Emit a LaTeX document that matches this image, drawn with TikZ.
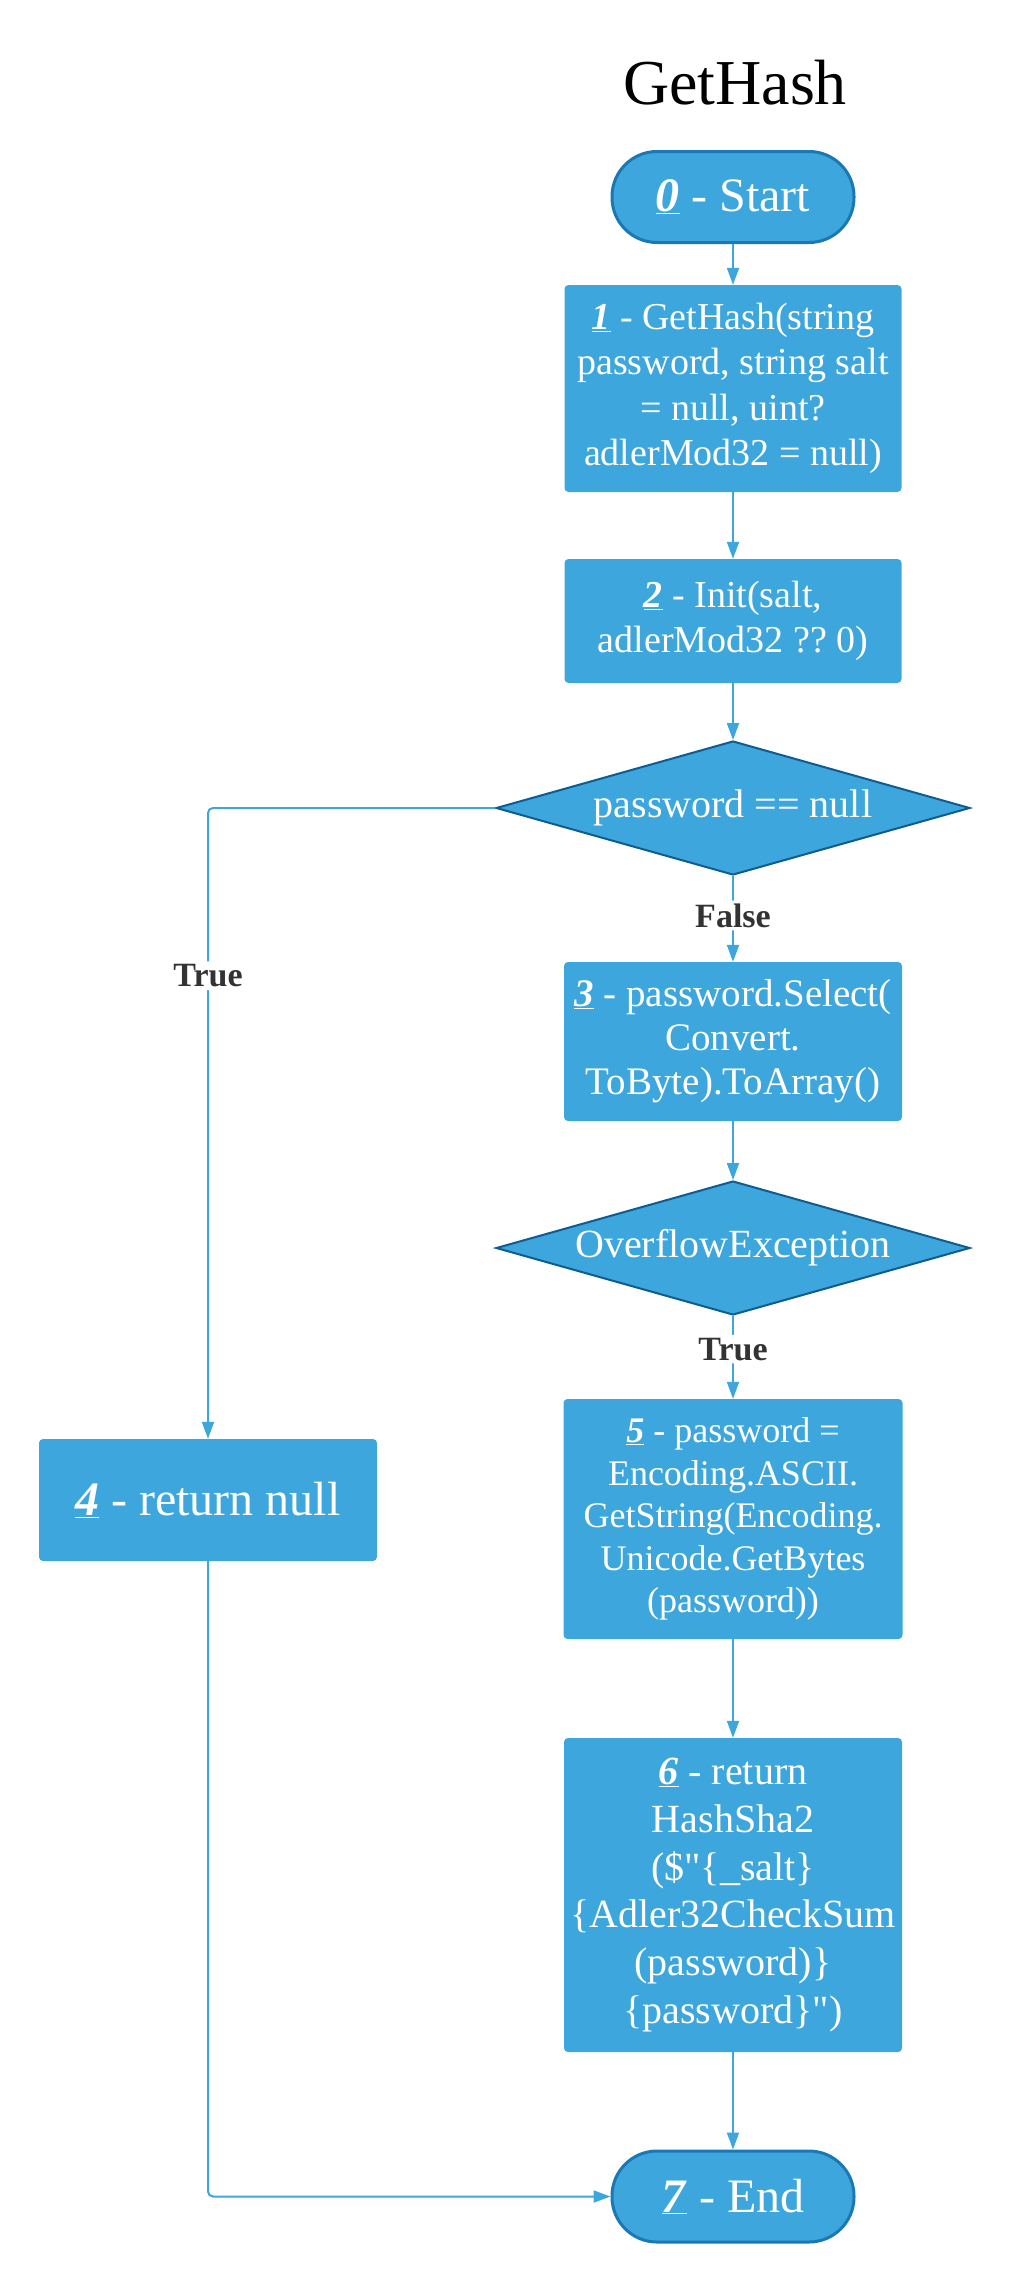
\documentclass[tikz,border=0pt]{standalone}
\usepackage{fontspec}
\setmainfont{Liberation Serif}
\usetikzlibrary{shapes.geometric,arrows.meta}
\definecolor{boxblue}{HTML}{3DA6DD}
\definecolor{termedge}{HTML}{1A78B5}
\definecolor{diaedge}{HTML}{0E5C91}
\definecolor{lblgray}{HTML}{333333}
\newcommand{\stepnum}[1]{\underline{\textbf{\textit{#1}}}}
\frenchspacing
\begin{document}
\begin{tikzpicture}[x=1pt,y=-1pt,
  box/.style={rectangle, rounded corners=4pt, fill=boxblue, text=white, align=center, inner sep=0pt},
  term/.style={rectangle, rounded corners=45pt, fill=boxblue, draw=termedge, line width=3pt, text=white, align=center, inner sep=0pt, minimum width=242pt, minimum height=91pt, font=\fontsize{48}{56}\selectfont},
  dia/.style={diamond, fill=boxblue, draw=diaedge, line width=2pt, text=white, inner sep=0pt, shape aspect=3.54, minimum width=474pt, minimum height=134pt, font=\fontsize{40}{48}\selectfont},
  conn/.style={draw=boxblue, line width=2pt, -{Triangle[length=17pt,width=12pt]}, rounded corners=5pt},
  lab/.style={fill=white, text=lblgray, font=\fontsize{34}{40}\selectfont\bfseries, inner sep=3pt}
]
\useasboundingbox (0,0) rectangle (1014,2283);

\node[font=\fontsize{64}{72}\selectfont, anchor=base] (title) at (735,104) {GetHash};
\node[term] (start) at (733,197) {\stepnum{0} - Start};
\node[box, minimum width=337pt, minimum height=207pt, font=\fontsize{38}{45.5}\selectfont] (b1) at (733,388.5)
  {\stepnum{1} - GetHash(string\\password, string salt\\= null, uint?\\adlerMod32 = null)};
\node[box, minimum width=337pt, minimum height=124pt, font=\fontsize{38}{45}\selectfont] (b2) at (733,621)
  {\stepnum{2} - Init(salt,\\adlerMod32 ?? 0)};
\node[dia] (d1) at (733,808) {password == null};
\node[box, minimum width=338pt, minimum height=159pt, font=\fontsize{39}{44}\selectfont] (b3) at (733,1041.5)
  {\stepnum{3} - password.Select(\\Convert.\\ToByte).ToArray()};
\node[dia] (d2) at (733,1248) {OverflowException};
\node[box, minimum width=339pt, minimum height=240pt, font=\fontsize{36}{42.6}\selectfont] (b5) at (733,1519)
  {\stepnum{5} - password =\\Encoding.ASCII.\\GetString(Encoding.\\Unicode.GetBytes\\(password))};
\node[box, minimum width=338pt, minimum height=122pt, font=\fontsize{48}{56}\selectfont] (b4) at (208,1500)
  {\stepnum{4} - return null};
\node[box, minimum width=338pt, minimum height=314pt, font={\fontsize{40}{47.8}\selectfont\addfontfeatures{Ligatures=TeXOff}}] (b6) at (733,1895)
  {\stepnum{6} - return\\HashSha2\\(\$"\{\_salt\}\\\{Adler32CheckSum\\(password)\}\\\{password\}")};
\node[term] (end) at (733,2196.5) {\stepnum{7} - End};

\draw[conn] (start) -- (b1);
\draw[conn] (b1) -- (b2);
\draw[conn] (b2) -- (d1);
\draw[conn] (d1) -- node[lab, pos=0.46]{False} (b3);
\draw[conn] (b3) -- (d2);
\draw[conn] (d2) -- node[lab, pos=0.4]{True} (b5);
\draw[conn] (b5) -- (b6);
\draw[conn] (b6) -- (end);
\draw[conn] (d1.west) -| node[lab, pos=0.633]{True} (b4.north);
\draw[conn] (b4.south) |- (end.west);
\end{tikzpicture}
\end{document}
